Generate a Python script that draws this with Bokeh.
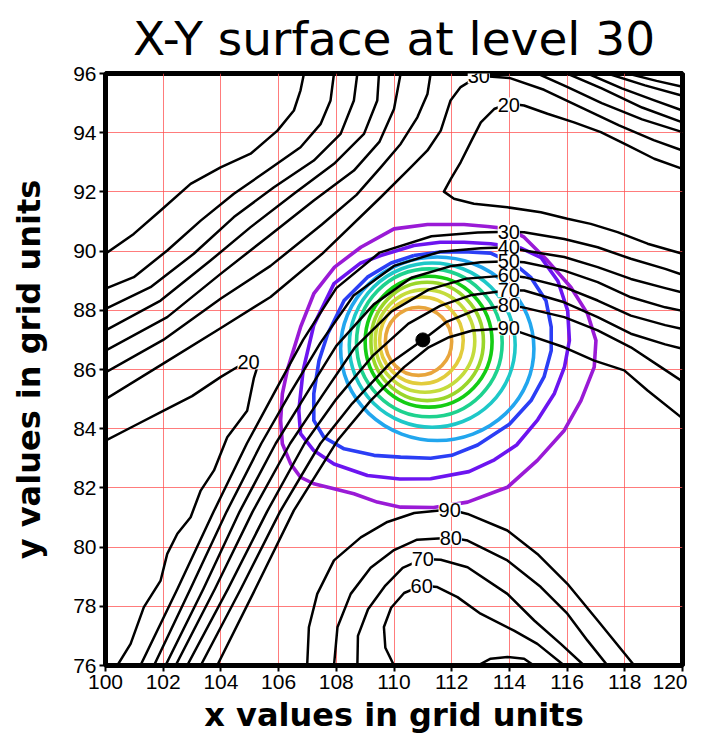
from bokeh.plotting import figure
from bokeh.models import Range1d
from bokeh.core.properties import value
from bokeh.embed import file_html
from bokeh.resources import INLINE

TITLE = "X-Y surface at level 30"
X_LABEL = "x values in grid units"
Y_LABEL = "y values in grid units"
X_TICKS = [100, 102, 104, 106, 108, 110, 112, 114, 116, 118, 120]
Y_TICKS = [76, 78, 80, 82, 84, 86, 88, 90, 92, 94, 96]

# ---- black contour lines (field A) ----
# lower-left -> centre -> right edge
L30_X = [101.21, 102.5, 103.75, 104.9, 105.9, 106.85, 108.0, 109.5, 111.3, 112.9, 113.98, 114.51, 115.9, 117.06, 118.21, 119.4, 120.0]
L30_Y = [76.0, 78.6, 81.2, 83.5, 85.3, 87.0, 88.75, 89.95, 90.5, 90.63, 90.65, 90.64, 90.41, 90.13, 89.74, 89.4, 89.2]
L40_X = [101.68, 102.95, 104.2, 105.4, 106.4, 107.45, 108.6, 110.0, 111.6, 113.0, 113.98, 114.51, 115.9, 117.06, 118.21, 119.4, 120.0]
L40_Y = [76.0, 78.6, 81.2, 83.5, 85.2, 86.9, 88.5, 89.5, 89.98, 90.1, 90.13, 90.02, 89.8, 89.46, 89.06, 88.75, 88.6]
L50_X = [102.08, 103.4, 104.65, 105.9, 106.95, 108.0, 109.3, 110.6, 112.0, 113.0, 113.98, 114.51, 115.9, 117.06, 118.21, 119.4, 120.0]
L50_Y = [76.0, 78.6, 81.2, 83.5, 85.15, 86.8, 88.2, 89.1, 89.5, 89.62, 89.66, 89.62, 89.34, 88.95, 88.44, 88.1, 87.98]
L60_X = [102.43, 103.8, 105.1, 106.4, 107.5, 108.65, 109.9, 111.2, 112.5, 113.98, 114.51, 115.9, 117.06, 118.21, 119.4, 120.0]
L60_Y = [76.0, 78.6, 81.2, 83.5, 85.1, 86.75, 87.95, 88.7, 89.07, 89.18, 89.12, 88.78, 88.33, 87.82, 87.5, 87.37]
L70_X = [102.83, 104.25, 105.6, 106.9, 108.0, 109.25, 110.5, 111.6, 112.7, 113.98, 114.51, 115.9, 117.06, 118.21, 119.4, 120.0]
L70_Y = [76.0, 78.6, 81.2, 83.5, 85.0, 86.45, 87.55, 88.15, 88.52, 88.68, 88.67, 88.27, 87.77, 87.21, 86.85, 86.7]
L80_X = [103.3, 104.7, 106.05, 107.45, 108.55, 109.85, 111.0, 111.8, 112.8, 113.98, 114.51, 115.9, 117.06, 118.21, 119.25, 120.0]
L80_Y = [76.0, 78.6, 81.2, 83.5, 84.85, 86.2, 87.0, 87.6, 88.0, 88.17, 88.09, 87.77, 87.32, 86.75, 86.08, 85.6]
L90_X = [103.87, 105.2, 106.53, 108.04, 109.19, 110.35, 111.2, 111.91, 112.72, 113.98, 114.51, 115.9, 116.94, 117.98, 118.79, 120.0]
L90_Y = [76.0, 78.6, 81.24, 83.6, 84.95, 86.08, 86.75, 87.09, 87.32, 87.39, 87.21, 86.75, 86.3, 85.97, 85.29, 84.35]

# upper-left lines: left edge -> top edge
U30_X = [100.0, 102.0, 104.0, 105.72, 107.5, 109.54, 110.58, 111.16, 111.62, 111.96, 112.31, 112.94, 114.0, 115.2, 116.5, 117.8, 119.0, 120.0]
U30_Y = [85.0, 86.2, 87.4, 88.45, 89.9, 91.82, 92.83, 93.4, 94.07, 95.09, 95.54, 95.92, 95.85, 95.45, 94.85, 94.25, 93.75, 93.4]
U40_X = [100.0, 102.0, 104.0, 105.72, 107.5, 108.7, 109.54, 110.23, 110.81, 111.16, 111.27]
U40_Y = [85.9, 87.0, 88.4, 89.5, 90.9, 91.9, 92.83, 93.62, 94.52, 95.31, 96.0]
U50_X = [100.0, 102.14, 103.99, 105.61, 107.22, 108.61, 109.5, 110.0, 110.23]
U50_Y = [86.64, 87.77, 89.23, 90.47, 91.71, 92.72, 93.7, 94.8, 96.0]
U60_X = [100.0, 101.91, 103.64, 105.03, 106.53, 107.92, 108.96, 109.42, 109.48]
U60_Y = [87.32, 88.33, 89.68, 90.81, 91.94, 92.95, 93.96, 95.09, 96.0]
U70_X = [100.0, 101.56, 103.06, 104.45, 105.84, 107.22, 108.15, 108.61, 108.73]
U70_Y = [88.05, 88.78, 89.91, 91.15, 92.16, 93.06, 93.96, 95.09, 96.0]
U80_X = [100.0, 100.98, 102.14, 103.3, 104.45, 105.61, 106.76, 107.46, 107.8, 107.92]
U80_Y = [88.73, 89.12, 90.02, 91.03, 91.94, 92.72, 93.51, 94.3, 95.09, 96.0]
U90_X = [100.0, 100.98, 101.91, 102.95, 103.99, 105.03, 105.96, 106.53, 106.76, 106.88]
U90_Y = [89.91, 90.58, 91.37, 92.27, 92.83, 93.29, 94.07, 94.75, 95.43, 96.0]

# top-right corner lines
T40_X = [114.97, 116.0, 117.2, 118.6, 120.0]
T40_Y = [96.0, 95.55, 95.0, 94.45, 94.02]
T50_X = [116.0, 117.2, 118.6, 120.0]
T50_Y = [96.0, 95.5, 94.85, 94.35]
T60_X = [116.71, 117.9, 119.0, 120.0]
T60_Y = [96.0, 95.5, 95.1, 94.75]
T70_X = [117.4, 118.7, 120.0]
T70_Y = [96.0, 95.6, 95.25]
T80_X = [118.1, 119.1, 120.0]
T80_Y = [96.0, 95.75, 95.55]

# the 20 contour: left trough and upper-right tongue
W20_X = [100.0, 101.0, 102.0, 103.0, 104.0, 104.6, 104.96, 105.25, 105.14, 104.91, 104.22, 103.76, 103.3, 102.95, 102.49, 102.14, 101.91, 101.33, 100.87, 100.41]
W20_Y = [83.6, 84.1, 84.6, 85.1, 85.75, 86.1, 86.24, 86.05, 85.7, 84.61, 83.71, 82.59, 81.91, 81.01, 80.45, 79.77, 78.87, 77.97, 76.73, 76.0]
T20_X = [120.0, 119.02, 118.1, 117.17, 116.24, 115.32, 114.51, 113.98, 113.47, 113.01, 112.66, 112.31, 111.97, 111.73, 112.08, 112.77, 113.93, 115.09, 116.01, 116.82, 117.75, 118.79, 120.0]
T20_Y = [92.78, 93.12, 93.57, 94.02, 94.35, 94.64, 94.92, 94.99, 94.8, 94.35, 93.68, 93.0, 92.44, 92.01, 91.77, 91.6, 91.48, 91.31, 91.09, 90.92, 90.64, 90.25, 89.91]

# bottom bowls
B90_X = [106.99, 107.05, 107.34, 107.92, 108.85, 109.77, 110.7, 111.93, 112.55, 113.93, 114.97, 116.01, 117.06, 118.33]
B90_Y = [76.0, 77.29, 78.42, 79.55, 80.33, 80.85, 81.15, 81.27, 81.12, 80.56, 79.77, 78.76, 77.52, 76.0]
B80_X = [107.92, 108.04, 108.5, 109.19, 110.0, 110.8, 111.97, 112.55, 113.93, 115.09, 116.01, 116.71, 117.4]
B80_Y = [76.0, 77.29, 78.42, 79.3, 79.9, 80.25, 80.32, 80.22, 79.55, 78.65, 77.75, 76.84, 76.0]
B70_X = [108.73, 108.75, 109.1, 109.7, 110.3, 111.0, 111.62, 112.55, 113.93, 114.86, 115.78, 116.59]
B70_Y = [76.0, 77.0, 77.9, 78.7, 79.3, 79.6, 79.57, 79.32, 78.42, 77.52, 76.73, 76.0]
B60_X = [110.0, 109.7, 109.65, 109.9, 110.35, 110.96, 111.5, 112.2, 113.0, 114.16, 114.97, 115.9]
B60_Y = [76.0, 76.6, 77.3, 77.95, 78.45, 78.7, 78.65, 78.31, 77.75, 77.18, 76.73, 76.0]
B50_X = [112.9, 113.35, 113.93, 114.51, 114.85]
B50_Y = [76.0, 76.23, 76.29, 76.23, 76.0]

# ---- coloured contours (field B) ----
PURPLE_X = [113.24, 112.43, 111.16, 110.0, 108.85, 107.94, 107.22, 106.76, 106.3, 106.13, 106.07, 106.13, 106.42, 106.76, 107.22, 107.92, 108.61, 109.42, 110.23, 111.37, 112.55, 113.93, 114.97, 115.9, 116.48, 116.94, 117.0, 116.71, 116.13, 115.32, 114.51, 113.98, 113.24]
PURPLE_Y = [90.83, 90.9, 90.9, 90.75, 90.13, 89.46, 88.56, 87.43, 85.97, 85.18, 84.28, 83.49, 82.81, 82.36, 82.14, 81.97, 81.8, 81.52, 81.35, 81.34, 81.52, 82.02, 82.93, 83.94, 84.95, 86.08, 86.98, 87.88, 88.78, 89.68, 90.47, 90.75, 90.83]
VIOLET_X = [109.54, 110.69, 111.6, 112.43, 113.35, 114.4, 115.1, 115.68, 116.02, 116.08, 115.91, 115.56, 114.98, 114.25, 113.48, 112.6, 111.27, 110.2, 109.08, 107.92, 107.22, 106.76, 106.7, 106.85, 107.22, 107.92, 108.85, 109.54]
VIOLET_Y = [89.85, 90.19, 90.3, 90.3, 90.25, 90.1, 89.78, 88.99, 87.99, 86.98, 86.09, 85.19, 84.3, 83.45, 82.95, 82.55, 82.31, 82.3, 82.42, 82.81, 83.26, 83.83, 84.61, 85.97, 87.5, 88.9, 89.6, 89.85]
BLUE_X = [110.69, 111.6, 112.43, 113.35, 114.2, 114.75, 115.27, 115.45, 115.45, 115.2, 114.75, 114.0, 112.9, 112.0, 111.27, 110.23, 109.31, 108.27, 107.57, 107.22, 107.22, 107.4, 107.7, 108.27, 109.08, 109.9, 110.69]
BLUE_Y = [89.85, 89.97, 89.98, 89.93, 89.55, 89.1, 88.32, 87.43, 86.64, 85.75, 84.95, 84.15, 83.45, 83.1, 83.0, 83.04, 83.1, 83.32, 83.71, 84.28, 85.18, 86.3, 87.2, 88.33, 89.12, 89.6, 89.85]
# inner rings (sky blue -> orange): centre, width, height
RING_CX = [111.5, 111.325, 111.225, 111.2, 111.15, 111.075, 110.95, 110.85]
RING_CY = [86.7, 86.825, 86.9, 86.94, 86.95, 86.965, 86.985, 86.95]
RING_W = [6.7, 5.75, 5.05, 4.4, 3.9, 3.45, 2.9, 2.3]
RING_H = [6.2, 5.55, 5.0, 4.42, 4.0, 3.47, 2.93, 2.3]
OUTER_COLORS = ["#9a1ad6", "#6c14f0", "#2b3ef5"]
RING_COLORS = ["#22a6ee", "#1ec8c8", "#1ed28e", "#14cc14", "#9ad62a", "#c4dc3c", "#e2cc3c", "#e8a53c"]

# ---- contour labels ----
LBL_TEXT = ["30", "40", "50", "60", "70", "80", "90", "20", "20", "30", "90", "80", "70", "60"]
LBL_X = [113.98, 113.98, 113.98, 113.98, 113.98, 113.98, 113.98, 104.96, 113.98, 112.94, 111.93, 111.97, 111.0, 110.96]
LBL_Y = [90.65, 90.13, 89.66, 89.18, 88.68, 88.17, 87.39, 86.24, 94.95, 95.9, 81.27, 80.32, 79.61, 78.7]

DOT_X = [111.0]
DOT_Y = [87.0]

p = figure(width=687, height=740, output_backend="svg", toolbar_location=None,
           x_range=Range1d(100, 120), y_range=Range1d(76, 96),
           min_border_left=105, min_border_right=5, min_border_top=73, min_border_bottom=75)
p.background_fill_color = "white"
p.border_fill_color = "white"

# title
p.title.text = TITLE
p.title.text_font = "DejaVu Sans"
p.title.text_font_size = "47px"
p.title.text_font_style = "normal"
p.title.text_color = "black"
p.title.align = "center"
p.title.standoff = 16

# grid
for g in (p.xgrid, p.ygrid):
    g.grid_line_color = "#ff5050"
    g.grid_line_alpha = 0.75
    g.grid_line_width = 1
p.xgrid.ticker = X_TICKS
p.ygrid.ticker = Y_TICKS

# axes
p.xaxis.ticker = X_TICKS
p.yaxis.ticker = Y_TICKS
p.xaxis.axis_label = X_LABEL
p.yaxis.axis_label = Y_LABEL
for ax in (p.xaxis, p.yaxis):
    ax.axis_label_text_font = "DejaVu Sans"
    ax.axis_label_text_font_style = "bold"
    ax.axis_label_text_font_size = "32px"
    ax.axis_label_text_color = "black"
    ax.major_label_text_font = "Liberation Sans Narrow, Liberation Sans"
    ax.major_label_text_font_size = "21px"
    ax.major_label_text_color = "black"
    ax.major_tick_out = 6
    ax.major_tick_in = 0
    ax.minor_tick_out = 0
    ax.minor_tick_in = 0
    ax.major_tick_line_width = 2
    ax.major_tick_line_color = "black"
    ax.axis_line_width = 5
    ax.axis_line_color = "black"
    ax.major_label_standoff = 3
p.xaxis.axis_label_standoff = 4
p.yaxis.axis_label_standoff = 22
p.outline_line_color = "black"
p.outline_line_width = 5
p.outline_line_alpha = 1.0

# coloured contours
p.multi_line(xs=[PURPLE_X, VIOLET_X, BLUE_X], ys=[PURPLE_Y, VIOLET_Y, BLUE_Y],
             line_color=OUTER_COLORS, line_width=3.6, line_join="round")
p.ellipse(x=RING_CX, y=RING_CY, width=RING_W, height=RING_H,
          fill_color=None, line_color=RING_COLORS, line_width=3.6)

# black contours
black_xs = [L30_X, L40_X, L50_X, L60_X, L70_X, L80_X, L90_X,
            U30_X, U40_X, U50_X, U60_X, U70_X, U80_X, U90_X,
            T40_X, T50_X, T60_X, T70_X, T80_X, W20_X, T20_X,
            B90_X, B80_X, B70_X, B60_X, B50_X]
black_ys = [L30_Y, L40_Y, L50_Y, L60_Y, L70_Y, L80_Y, L90_Y,
            U30_Y, U40_Y, U50_Y, U60_Y, U70_Y, U80_Y, U90_Y,
            T40_Y, T50_Y, T60_Y, T70_Y, T80_Y, W20_Y, T20_Y,
            B90_Y, B80_Y, B70_Y, B60_Y, B50_Y]
p.multi_line(xs=black_xs, ys=black_ys, line_color="black", line_width=2.5, line_join="round")

# labels with white boxes
p.text(x=LBL_X, y=LBL_Y, text=LBL_TEXT, text_font=value("Liberation Sans"),
       text_font_size="20px", text_align="center", text_baseline="middle",
       text_color="black", background_fill_color="white")

# dot
p.scatter(x=DOT_X, y=DOT_Y, size=14, color="black")

open("out.html", "w").write(file_html(p, INLINE))
